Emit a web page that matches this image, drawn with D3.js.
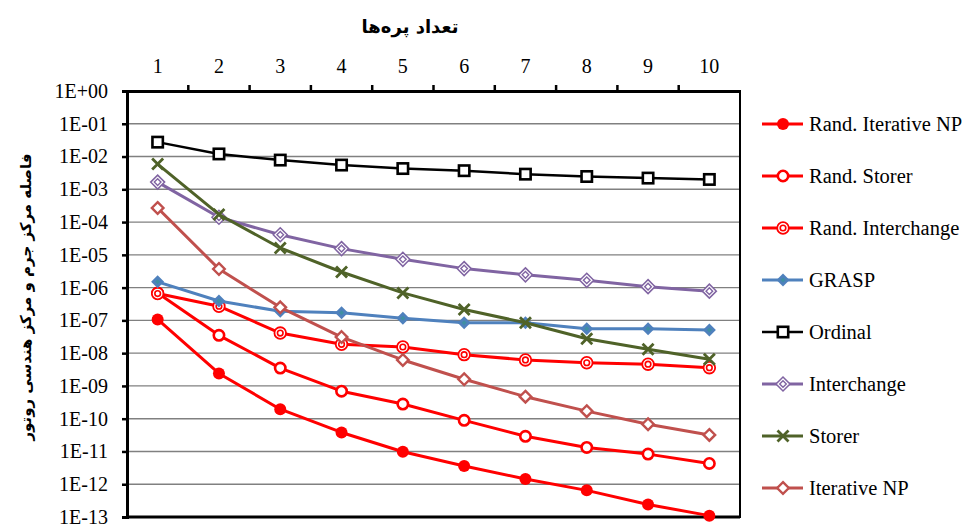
<!DOCTYPE html>
<html>
<head>
<meta charset="utf-8">
<script src="https://cdn.jsdelivr.net/npm/d3@7"></script>
<style>
  html, body { margin: 0; padding: 0; background: #fff; }
  svg { display: block; }
  .serif { font-family: "Liberation Serif", "Tinos", "Times New Roman", "DejaVu Serif", serif; }
</style>
</head>
<body>
<svg id="chart" width="968" height="525"></svg>
<script>
// Number of blades on the x axis
const categories = [1, 2, 3, 4, 5, 6, 7, 8, 9, 10];

// Decade tick values and their labels
const yTicks = [1e0, 1e-1, 1e-2, 1e-3, 1e-4, 1e-5, 1e-6, 1e-7, 1e-8, 1e-9, 1e-10, 1e-11, 1e-12, 1e-13];
const yTickLabels = ["1E+00", "1E-01", "1E-02", "1E-03", "1E-04", "1E-05", "1E-06",
                     "1E-07", "1E-08", "1E-09", "1E-10", "1E-11", "1E-12", "1E-13"];

// Distance between centre of mass and geometric centre of the rotor, per method
const randIterativeNP = [1.07e-7, 2.4e-9, 1.95e-10, 3.8e-11, 9.8e-12, 3.6e-12, 1.44e-12, 6.5e-13, 2.4e-13, 1.1e-13];
const randStorer      = [6.8e-7, 3.5e-8, 3.5e-9, 6.9e-10, 2.8e-10, 8.9e-11, 2.9e-11, 1.33e-11, 8.3e-12, 4.3e-12];
const randInterchange = [6.6e-7, 2.7e-7, 4.1e-8, 1.86e-8, 1.54e-8, 9.0e-9, 6.2e-9, 5.1e-9, 4.6e-9, 3.6e-9];
const grasp           = [1.5e-6, 3.9e-7, 1.9e-7, 1.7e-7, 1.17e-7, 8.5e-8, 8.5e-8, 5.6e-8, 5.6e-8, 5.1e-8];
const ordinal         = [2.75e-2, 1.2e-2, 7.8e-3, 5.5e-3, 4.3e-3, 3.7e-3, 2.9e-3, 2.46e-3, 2.2e-3, 2.0e-3];
const interchange     = [1.66e-3, 1.4e-4, 4.1e-5, 1.55e-5, 7.3e-6, 3.8e-6, 2.45e-6, 1.67e-6, 1.07e-6, 7.8e-7];
const storer          = [5.9e-3, 1.71e-4, 1.62e-5, 3.0e-6, 6.9e-7, 2.15e-7, 8.5e-8, 2.76e-8, 1.31e-8, 6.5e-9];
const iterativeNP     = [2.7e-4, 3.7e-6, 2.5e-7, 3.1e-8, 6.2e-9, 1.6e-9, 4.7e-10, 1.7e-10, 6.8e-11, 3.2e-11];

const seriesNames = ["Rand. Iterative NP", "Rand. Storer", "Rand. Interchange", "GRASP",
                     "Ordinal", "Interchange", "Storer", "Iterative NP"];
const seriesValues = [randIterativeNP, randStorer, randInterchange, grasp,
                      ordinal, interchange, storer, iterativeNP];

const xTitle = "تعداد پره‌ها";
const yTitle = "فاصله مرکز جرم و مرکز هندسی روتور";

// Per-series look: line colour, width and marker type
const styles = [
  { color: "#FF0000", width: 3,   marker: "dot" },
  { color: "#FF0000", width: 3,   marker: "ring" },
  { color: "#FF0000", width: 3,   marker: "doubleRing" },
  { color: "#4F81BD", width: 3,   marker: "diamondFilled" },
  { color: "#000000", width: 2.5, marker: "square" },
  { color: "#8064A2", width: 3,   marker: "doubleDiamond" },
  { color: "#4F6228", width: 3,   marker: "cross" },
  { color: "#C0504D", width: 3,   marker: "diamond" }
];

const svg = d3.select("#chart");
const plot = { left: 127, right: 740, top: 91, bottom: 517 };

const x = d3.scaleBand().domain(categories).range([plot.left, plot.right]);
const y = d3.scaleLog().domain([1e-13, 1]).range([plot.bottom, plot.top]);

// Horizontal gridlines at every decade
svg.append("g")
  .selectAll("line")
  .data(yTicks)
  .join("line")
  .attr("x1", plot.left).attr("x2", plot.right)
  .attr("y1", d => y(d)).attr("y2", d => y(d))
  .attr("stroke", "#808080").attr("stroke-width", 1.4);

// Plot frame
svg.append("rect")
  .attr("x", plot.left).attr("y", plot.top)
  .attr("width", plot.right - plot.left).attr("height", plot.bottom - plot.top)
  .attr("fill", "none").attr("stroke", "#000").attr("stroke-width", 2);
svg.append("line")
  .attr("x1", plot.left).attr("x2", plot.right)
  .attr("y1", plot.bottom).attr("y2", plot.bottom)
  .attr("stroke", "#000").attr("stroke-width", 3);

// Left log axis
const yAxis = svg.append("g")
  .attr("transform", `translate(${plot.left},0)`)
  .call(d3.axisLeft(y).tickValues(yTicks).tickSize(5).tickPadding(14)
        .tickFormat((d, i) => yTickLabels[i]));
yAxis.attr("font-family", null).attr("font-size", null).attr("class", "serif");
yAxis.selectAll("text").attr("font-size", 20).attr("fill", "#000");
yAxis.select(".domain").attr("stroke-width", 3);
yAxis.selectAll(".tick line").attr("stroke-width", 2.5);

// Top category axis: labels at band centres, ticks at band boundaries
const xAxis = svg.append("g")
  .attr("transform", `translate(0,${plot.top})`)
  .call(d3.axisTop(x).tickSize(0).tickPadding(18));
xAxis.attr("font-family", null).attr("font-size", null).attr("class", "serif");
xAxis.selectAll("text").attr("font-size", 20).attr("fill", "#000");
xAxis.select(".domain").attr("stroke-width", 3);
svg.append("g")
  .selectAll("line")
  .data(categories.slice(0, -1))
  .join("line")
  .attr("x1", d => x(d) + x.bandwidth()).attr("x2", d => x(d) + x.bandwidth())
  .attr("y1", plot.top).attr("y2", plot.top - 6)
  .attr("stroke", "#000").attr("stroke-width", 2.5);

// Marker drawing
function drawMarker(g, type, color) {
  switch (type) {
    case "dot":
      g.append("circle").attr("r", 6).attr("fill", color);
      break;
    case "ring":
      g.append("circle").attr("r", 5.2).attr("fill", "#fff").attr("stroke", color).attr("stroke-width", 2.6);
      break;
    case "doubleRing":
      g.append("circle").attr("r", 5.8).attr("fill", "#fff").attr("stroke", color).attr("stroke-width", 1.8);
      g.append("circle").attr("r", 2.8).attr("fill", "#fff").attr("stroke", color).attr("stroke-width", 1.6);
      break;
    case "diamondFilled":
      g.append("path").attr("d", "M0,-6.5L6.5,0L0,6.5L-6.5,0Z").attr("fill", color);
      g.append("path").attr("d", "M0,-2.5L2.5,0L0,2.5L-2.5,0Z").attr("fill", "#3F8FA3");
      break;
    case "square":
      g.append("rect").attr("x", -5.2).attr("y", -5.2).attr("width", 10.4).attr("height", 10.4)
        .attr("fill", "#fff").attr("stroke", color).attr("stroke-width", 2.6);
      break;
    case "doubleDiamond":
      g.append("path").attr("d", "M0,-7L7,0L0,7L-7,0Z").attr("fill", "#fff").attr("stroke", color).attr("stroke-width", 1.5);
      g.append("path").attr("d", "M0,-3.3L3.3,0L0,3.3L-3.3,0Z").attr("fill", "#fff").attr("stroke", color).attr("stroke-width", 1.4);
      break;
    case "cross":
      g.append("path").attr("d", "M-5.5,-5.5L5.5,5.5M-5.5,5.5L5.5,-5.5")
        .attr("stroke", color).attr("stroke-width", 2.8).attr("fill", "none");
      break;
    case "diamond":
      g.append("path").attr("d", "M0,-5.8L5.8,0L0,5.8L-5.8,0Z").attr("fill", "#fff").attr("stroke", color).attr("stroke-width", 2.4);
      break;
  }
}

const line = d3.line()
  .x((d, i) => x(categories[i]) + x.bandwidth() / 2)
  .y(d => y(d));

// Series: later entries draw over earlier ones
seriesValues.forEach((vals, si) => {
  const st = styles[si];
  const g = svg.append("g");
  g.append("path")
    .attr("d", line(vals))
    .attr("fill", "none")
    .attr("stroke", st.color)
    .attr("stroke-width", st.width)
    .attr("stroke-linejoin", "round");
  vals.forEach((v, i) => {
    const mg = g.append("g")
      .attr("transform", `translate(${x(categories[i]) + x.bandwidth() / 2},${y(v)})`);
    drawMarker(mg, st.marker, st.color);
  });
});

// Legend
const legend = svg.append("g");
seriesNames.forEach((name, i) => {
  const st = styles[i];
  const ly = 124 + i * 52;
  const row = legend.append("g").attr("transform", `translate(0,${ly})`);
  row.append("line").attr("x1", 762).attr("x2", 803).attr("y1", 0).attr("y2", 0)
    .attr("stroke", st.color).attr("stroke-width", st.width);
  drawMarker(row.append("g").attr("transform", "translate(783,0)"), st.marker, st.color);
  row.append("text")
    .attr("class", "serif")
    .attr("x", 809).attr("y", 0).attr("dy", "0.35em")
    .attr("font-size", 20.5)
    .text(name);
});

// Axis titles
svg.append("text")
  .attr("x", 410).attr("y", 27).attr("dy", "0.35em")
  .attr("text-anchor", "middle")
  .attr("font-family", "DejaVu Sans, Noto Sans, sans-serif")
  .attr("font-weight", "bold").attr("font-size", 18)
  .attr("direction", "rtl")
  .text(xTitle);

svg.append("text")
  .attr("transform", "translate(26,297) rotate(-90)")
  .attr("dy", "0.35em")
  .attr("text-anchor", "middle")
  .attr("font-family", "DejaVu Sans, Noto Sans, sans-serif")
  .attr("font-weight", "bold").attr("font-size", 15)
  .attr("direction", "rtl")
  .text(yTitle);
</script>
</body>
</html>
